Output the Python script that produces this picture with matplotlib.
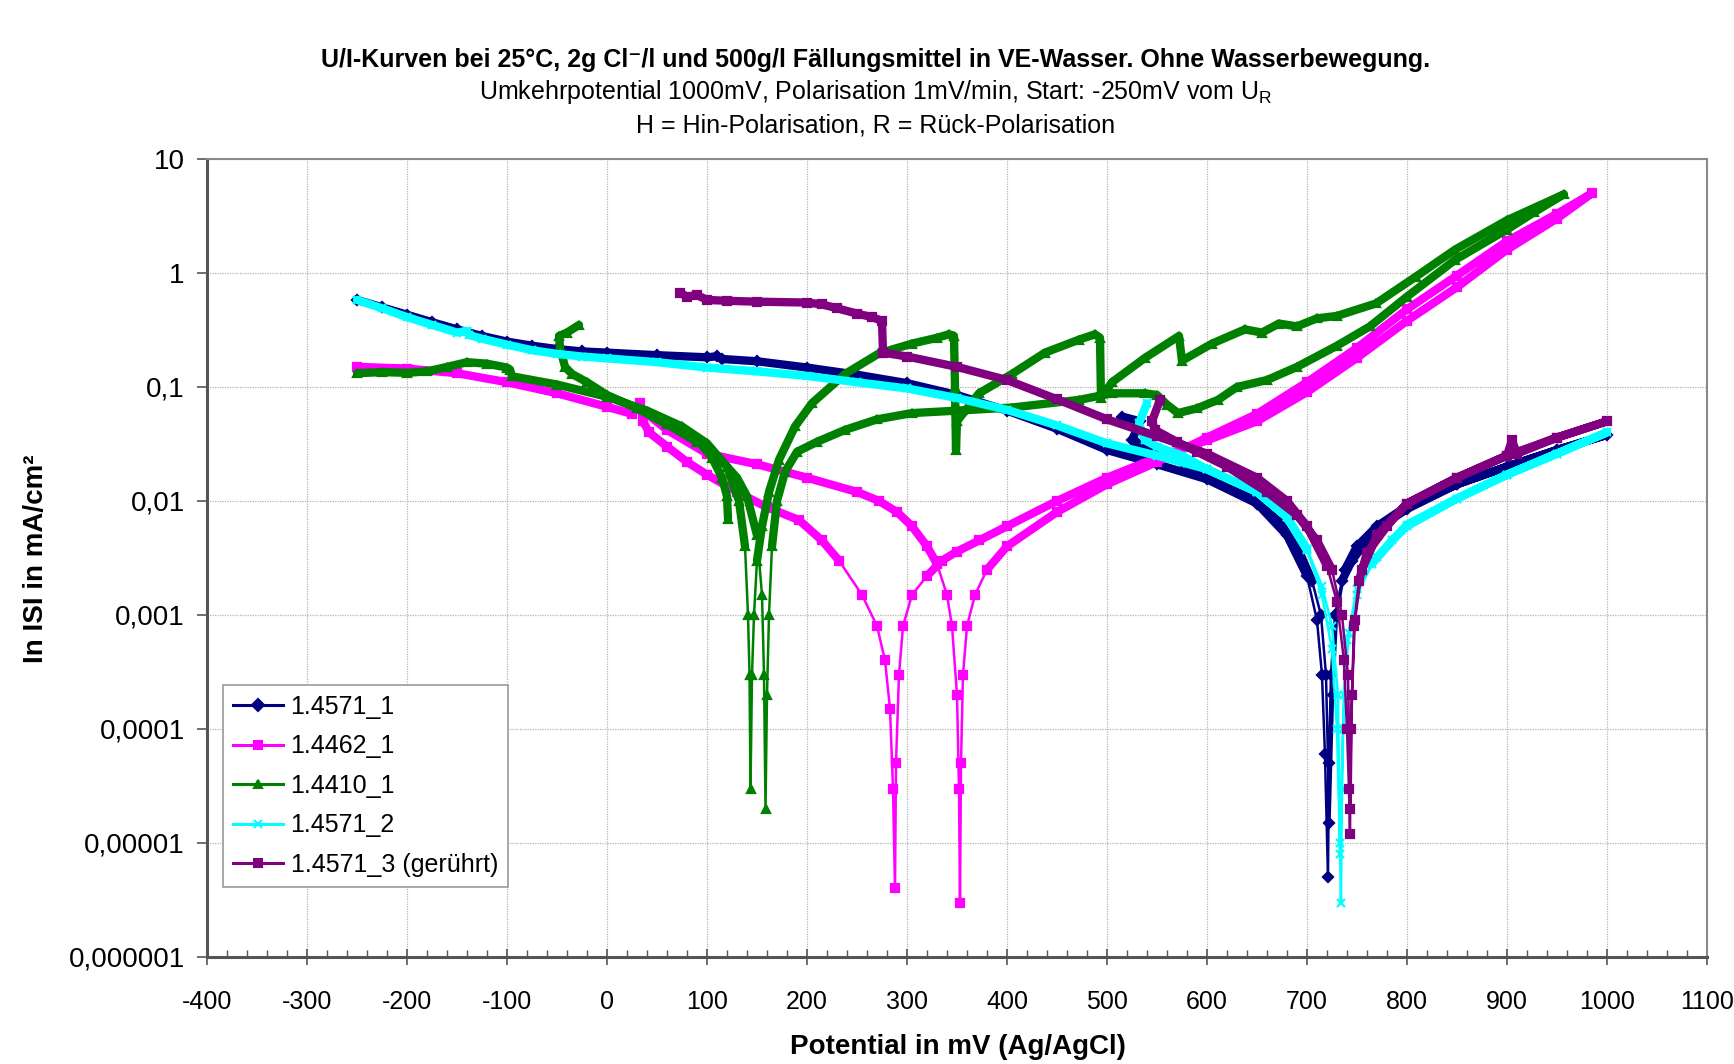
import numpy as np
import matplotlib
matplotlib.use("Agg")
import matplotlib.pyplot as plt
from matplotlib.lines import Line2D
from matplotlib.ticker import FixedLocator, MultipleLocator, NullLocator

plt.rcParams["font.family"] = ["Liberation Sans", "DejaVu Sans"]
plt.rcParams["mathtext.fontset"] = "custom"
plt.rcParams["mathtext.rm"] = "Liberation Sans"
plt.rcParams["axes.unicode_minus"] = False

nan = np.nan

# 1.4571_1 : Hin (-250 -> 1000) then Rueck (1000 -> hook near 520 mV)
n1_mv = [-250, -225, -200, -175, -150, -125, -100, -75, -50, -25, 0, 50, 100, 110, 115, 150,
         200, 250, 300, 350, 400, 450, 500, 550, 600, 650, 680, 700, 710, 715, 718, 721,
         722, 724, 728, 735, 745, 760, 780, 800, 850, 900, 950, 1000,
         950, 900, 850, 800, 770, 750, 738, 730, 726, 722.5, 719, 714, 705, 690, 670, 650,
         620, 600, 575, 550, 530, 525, 533, 515]
n1_i = [0.58, 0.5, 0.43, 0.37, 0.32, 0.28, 0.25, 0.23, 0.215, 0.205, 0.2, 0.19, 0.182, 0.186, 0.176, 0.168,
        0.148, 0.128, 0.108, 0.085, 0.062, 0.043, 0.028, 0.021, 0.0155, 0.0095, 0.005, 0.0022, 0.0009, 0.0003, 0.00006, 0.000005,
        0.00005, 0.0003, 0.001, 0.002, 0.003, 0.0045, 0.0065, 0.0085, 0.014, 0.02, 0.028, 0.038,
        0.028, 0.02, 0.014, 0.009, 0.006, 0.004, 0.0025, 0.001, 0.0002, 0.000015, 0.0003, 0.001, 0.002, 0.004, 0.007, 0.01,
        0.014, 0.017, 0.022, 0.028, 0.032, 0.034, 0.05, 0.055]

# 1.4462_1
p1_mv = [-250, -200, -150, -100, -50, 0, 25, 33, 36, 42, 60, 80, 100, 130, 160, 192, 215, 232, 255,
         270, 278, 283, 286, 288, 289, 292, 296, 305, 320, 335, 350, 372, 400, 450, 500, 550, 600,
         650, 700, 750, 800, 850, 900, 950, 985,
         950, 900, 850, 800, 750, 700, 650, 600, 550, 500, 450, 400, 380, 368, 360, 356, 354, 353,
         352, 350, 345, 340, 330, 320, 305, 290, 272, 250, 200, 150, 100, 60, 40]
p1_i = [0.15, 0.145, 0.132, 0.11, 0.088, 0.067, 0.058, 0.072, 0.05, 0.04, 0.03, 0.022, 0.017, 0.012, 0.0088, 0.0068, 0.0045, 0.003, 0.0015,
        0.0008, 0.0004, 0.00015, 0.00003, 0.000004, 0.00005, 0.0003, 0.0008, 0.0015, 0.0022, 0.003, 0.0036, 0.0045, 0.006, 0.01, 0.016, 0.024, 0.034,
        0.05, 0.09, 0.18, 0.38, 0.75, 1.6, 3.0, 5.0,
        3.3, 1.9, 0.95, 0.48, 0.22, 0.11, 0.058, 0.036, 0.022, 0.014, 0.008, 0.004, 0.0025, 0.0015, 0.0008, 0.0003, 0.00005, 0.000003,
        0.00003, 0.0002, 0.0008, 0.0015, 0.0028, 0.004, 0.006, 0.008, 0.01, 0.012, 0.016, 0.021, 0.026, 0.042, 0.058]

# 1.4410_1 : Hin, Rueck, and a short interrupted piece
g1_mv = [-250, -225, -200, -180, -160, -140, -120, -100, -97, -95, -50, 0, 40, 75, 100, 120, 132, 138,
         141, 142.5, 143.5, 145, 147, 150, 155, 162, 172, 188, 205, 238, 272, 305, 330, 342, 347, 348,
         349, 350, 372, 405, 438, 472, 488, 493, 494, 505, 538, 572, 575, 605, 638, 655, 672, 690,
         710, 730, 769, 809, 848, 900, 957,
         927, 900, 848, 800, 763, 730, 690, 660, 630, 611, 590, 571, 560, 550, 538, 505, 472, 405,
         350, 305, 270, 238, 210, 190, 178, 170, 165, 162, 160, 158.5, 157, 155, 150, 140, 130, 110,
         90, 60, 30, 0, -20, -35, -42, -47, -48, -40, -28,
         nan, 90, 105, 115, 120, 121]
g1_i = [0.132, 0.135, 0.133, 0.137, 0.15, 0.165, 0.16, 0.148, 0.142, 0.124, 0.105, 0.082, 0.062, 0.045, 0.032, 0.02, 0.01, 0.004,
        0.001, 0.0003, 0.00003, 0.0003, 0.001, 0.003, 0.006, 0.012, 0.023, 0.045, 0.072, 0.13, 0.197, 0.24, 0.27, 0.29, 0.28, 0.1,
        0.028, 0.05, 0.088, 0.13, 0.2, 0.26, 0.29, 0.27, 0.08, 0.11, 0.18, 0.28, 0.17, 0.24, 0.32, 0.3, 0.36, 0.34,
        0.4, 0.42, 0.54, 0.93, 1.6, 2.9, 4.9,
        3.4, 2.4, 1.3, 0.62, 0.34, 0.23, 0.15, 0.115, 0.1, 0.077, 0.065, 0.059, 0.07, 0.085, 0.088, 0.088, 0.077, 0.066,
        0.062, 0.059, 0.052, 0.042, 0.033, 0.027, 0.018, 0.01, 0.004, 0.001, 0.0002, 0.00002, 0.0003, 0.0015, 0.005, 0.011, 0.016, 0.025,
        0.033, 0.047, 0.065, 0.085, 0.11, 0.13, 0.15, 0.22, 0.28, 0.3, 0.35,
        nan, 0.035, 0.024, 0.016, 0.011, 0.007]

# 1.4571_2
n2_mv = [-250, -225, -200, -175, -150, -140, -138, -125, -100, -75, -50, -25, 0, 50, 100, 150, 200,
         250, 300, 350, 400, 450, 500, 550, 600, 650, 680, 700, 715, 725, 730, 733, 734,
         735, 737, 742, 750, 765, 785, 800, 850, 900, 950, 1000,
         950, 900, 850, 800, 770, 750, 740, 736, 733, 731, 725, 715, 700, 680, 650, 600, 575,
         550, 538, 532, 540]
n2_i = [0.58, 0.49, 0.41, 0.35, 0.3, 0.31, 0.285, 0.265, 0.235, 0.21, 0.195, 0.185, 0.178, 0.165, 0.148, 0.137, 0.125,
        0.11, 0.097, 0.08, 0.063, 0.046, 0.032, 0.025, 0.019, 0.012, 0.0072, 0.0037, 0.0015, 0.0005, 0.0001, 0.00001, 0.000003,
        0.00003, 0.0002, 0.0007, 0.0015, 0.0028, 0.0045, 0.006, 0.0105, 0.017, 0.026, 0.04,
        0.026, 0.017, 0.0105, 0.0062, 0.0032, 0.0017, 0.0006, 0.0001, 0.000008, 0.0002, 0.0008, 0.0018, 0.0038, 0.0072, 0.012, 0.019, 0.025,
        0.03, 0.034, 0.048, 0.072]

# 1.4571_3 (geruehrt)
n3_mv = [73, 80, 90, 100, 120, 150, 200, 215, 230, 250, 265, 275, 276, 300, 350, 400, 450, 500,
         550, 600, 650, 680, 700, 720, 730, 737, 740, 742, 743, 744, 747, 752, 760, 780, 800,
         850, 900, 905, 910, 950, 1000,
         950, 900, 850, 800, 770, 755, 748, 745, 743.5, 741, 735, 725, 710, 690, 660, 620, 590,
         570, 548, 545, 553]
n3_i = [0.67, 0.62, 0.64, 0.58, 0.57, 0.56, 0.55, 0.53, 0.49, 0.44, 0.41, 0.38, 0.2, 0.185, 0.15, 0.115, 0.078, 0.052,
        0.037, 0.026, 0.016, 0.01, 0.006, 0.0027, 0.0013, 0.0004, 0.0001, 0.00003, 0.000012, 0.0001, 0.0008, 0.002, 0.0035, 0.006, 0.0095,
        0.016, 0.025, 0.034, 0.026, 0.036, 0.05,
        0.036, 0.025, 0.016, 0.0095, 0.005, 0.0025, 0.0009, 0.0002, 0.00002, 0.0003, 0.001, 0.0025, 0.0045, 0.0075, 0.012, 0.02, 0.027,
        0.033, 0.042, 0.05, 0.077]

series = [
    ("1.4571_1", n1_mv, n1_i, "#000080", "D", 5),
    ("1.4462_1", p1_mv, p1_i, "#FF00FF", "s", 6),
    ("1.4410_1", g1_mv, g1_i, "#008000", "^", 6),
    ("1.4571_2", n2_mv, n2_i, "#00FFFF", "x", 6),
    ("1.4571_3 (gerührt)", n3_mv, n3_i, "#800080", "s", 6),
]

fig = plt.figure(figsize=(17.34, 10.64), dpi=100)
ax = fig.add_axes([0.1194, 0.1006, 0.865, 0.75])

handles = []
for name, xs, ys, col, mk, ms in series:
    xs = np.asarray(xs, dtype=float)
    ys = np.asarray(ys, dtype=float)
    # dense measuring points look like a broad band in the original
    dense = np.where(ys >= 2e-3, ys, np.nan)
    ax.plot(xs, dense, color=col, lw=6, solid_capstyle="round", solid_joinstyle="round")
    ax.plot(xs, ys, color=col, lw=1.8, marker=mk, ms=ms, mew=1.6, mfc=col, mec=col)
    handles.append(Line2D([], [], color=col, lw=2.2, marker=mk, ms=6, mfc=col, mec=col, mew=1.5))

ax.set_yscale("log")
ax.set_xlim(-400, 1100)
ax.set_ylim(1e-6, 10)

ytick_vals = [1e-6, 1e-5, 1e-4, 1e-3, 1e-2, 1e-1, 1, 10]
ytick_text = ["0,000001", "0,00001", "0,0001", "0,001", "0,01", "0,1", "1", "10"]
ax.yaxis.set_major_locator(FixedLocator(ytick_vals))
ax.yaxis.set_minor_locator(NullLocator())
ax.set_yticklabels(ytick_text)
ax.set_xticks(np.arange(-400, 1101, 100))
ax.xaxis.set_minor_locator(MultipleLocator(20))

ax.tick_params(axis="both", which="major", color="#555555")
ax.tick_params(axis="x", which="major", direction="inout", length=12, width=1.2, pad=18, labelsize=18)
ax.tick_params(axis="x", which="minor", direction="in", length=5, width=1, color="#555555")
ax.tick_params(axis="y", which="major", direction="out", length=7, width=1.2, pad=9, labelsize=20)

ax.grid(True, which="major", color="#b5b5b5", lw=0.9, ls=(0, (1, 1)))
ax.set_axisbelow(True)

for side in ["top", "right"]:
    ax.spines[side].set_color("#8a8a8a")
    ax.spines[side].set_linewidth(1.5)
for side in ["left", "bottom"]:
    ax.spines[side].set_color("#555555")
    ax.spines[side].set_linewidth(2.2)

fig.text(0.505, 0.944, "U/I-Kurven bei 25°C, 2g Cl⁻/l und 500g/l Fällungsmittel in VE-Wasser. Ohne Wasserbewegung.",
         ha="center", va="center", fontsize=18, fontweight="bold")
fig.text(0.505, 0.914, r"Umkehrpotential 1000mV, Polarisation 1mV/min, Start: -250mV vom U$_\mathrm{R}$",
         ha="center", va="center", fontsize=18)
fig.text(0.505, 0.882, "H = Hin-Polarisation, R = Rück-Polarisation",
         ha="center", va="center", fontsize=18)

fig.text(0.5525, 0.016, "Potential in mV (Ag/AgCl)", ha="center", va="center",
         fontsize=20, fontweight="bold")
fig.text(0.021, 0.475, "In ISI in mA/cm²", ha="center", va="center", rotation=90,
         fontsize=20, fontweight="bold")

leg = ax.legend(handles, [s[0] for s in series], loc="lower left",
                bbox_to_anchor=(0.0107, 0.0877), fontsize=18, frameon=True, fancybox=False,
                edgecolor="#9a9a9a", framealpha=1, borderpad=0.4, labelspacing=0.62,
                handlelength=2.0, handletextpad=0.3, borderaxespad=0)
leg.get_frame().set_linewidth(1.2)

fig.savefig("out.png", dpi=100, facecolor="white")
